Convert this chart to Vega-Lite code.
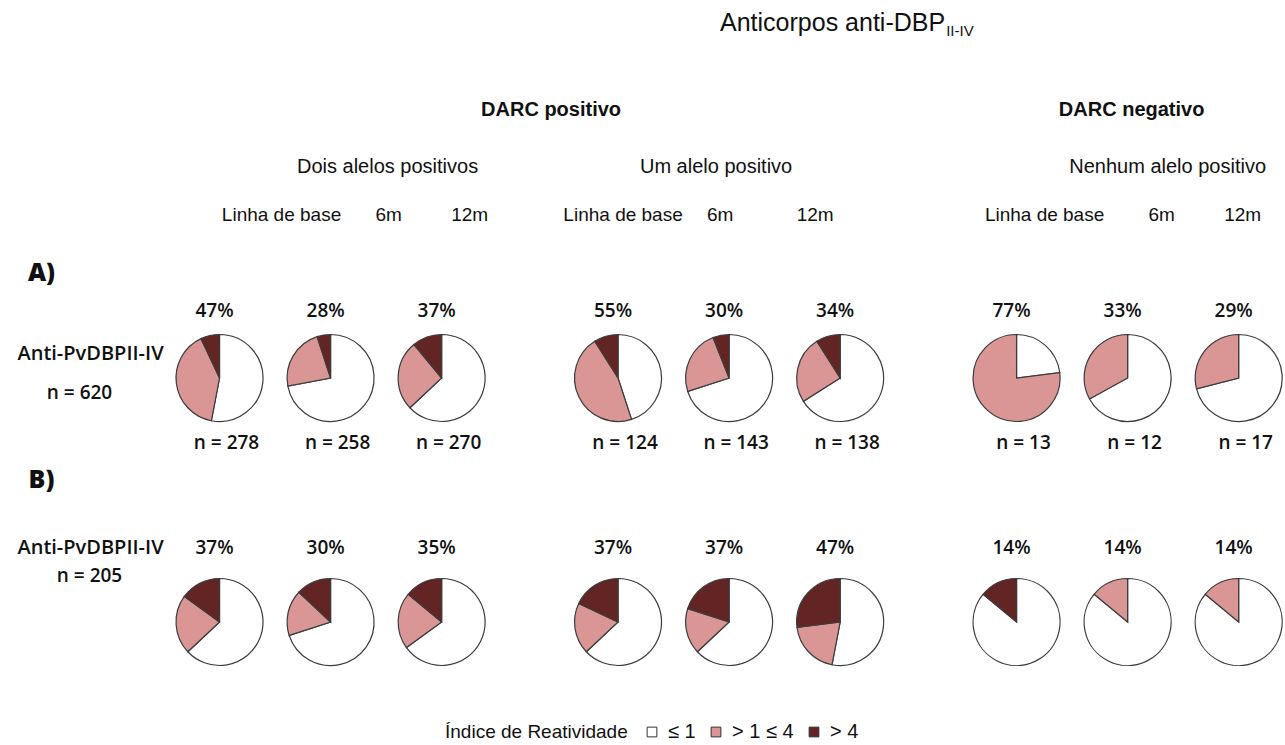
{
  "$schema": "https://vega.github.io/schema/vega-lite/v6.json",
  "width": 1285,
  "height": 745,
  "autosize": {"type": "none"},
  "padding": 0,
  "background": "white",
  "config": {
    "view": {"stroke": null},
    "text": {"font": "Open Sans", "color": "#111111"}
  },
  "datasets": {
    "fatias": [
      {"linha": "A", "grupo": "Dois alelos positivos", "tempo": "Linha de base", "classe": "≤ 1", "ordem": 1, "pct": 53},
      {"linha": "A", "grupo": "Dois alelos positivos", "tempo": "Linha de base", "classe": "> 1 ≤ 4", "ordem": 2, "pct": 40},
      {"linha": "A", "grupo": "Dois alelos positivos", "tempo": "Linha de base", "classe": "> 4", "ordem": 3, "pct": 7},
      {"linha": "A", "grupo": "Dois alelos positivos", "tempo": "6m", "classe": "≤ 1", "ordem": 1, "pct": 72},
      {"linha": "A", "grupo": "Dois alelos positivos", "tempo": "6m", "classe": "> 1 ≤ 4", "ordem": 2, "pct": 23},
      {"linha": "A", "grupo": "Dois alelos positivos", "tempo": "6m", "classe": "> 4", "ordem": 3, "pct": 5},
      {"linha": "A", "grupo": "Dois alelos positivos", "tempo": "12m", "classe": "≤ 1", "ordem": 1, "pct": 63},
      {"linha": "A", "grupo": "Dois alelos positivos", "tempo": "12m", "classe": "> 1 ≤ 4", "ordem": 2, "pct": 26},
      {"linha": "A", "grupo": "Dois alelos positivos", "tempo": "12m", "classe": "> 4", "ordem": 3, "pct": 11},
      {"linha": "A", "grupo": "Um alelo positivo", "tempo": "Linha de base", "classe": "≤ 1", "ordem": 1, "pct": 45},
      {"linha": "A", "grupo": "Um alelo positivo", "tempo": "Linha de base", "classe": "> 1 ≤ 4", "ordem": 2, "pct": 46},
      {"linha": "A", "grupo": "Um alelo positivo", "tempo": "Linha de base", "classe": "> 4", "ordem": 3, "pct": 9},
      {"linha": "A", "grupo": "Um alelo positivo", "tempo": "6m", "classe": "≤ 1", "ordem": 1, "pct": 70},
      {"linha": "A", "grupo": "Um alelo positivo", "tempo": "6m", "classe": "> 1 ≤ 4", "ordem": 2, "pct": 24},
      {"linha": "A", "grupo": "Um alelo positivo", "tempo": "6m", "classe": "> 4", "ordem": 3, "pct": 6},
      {"linha": "A", "grupo": "Um alelo positivo", "tempo": "12m", "classe": "≤ 1", "ordem": 1, "pct": 66},
      {"linha": "A", "grupo": "Um alelo positivo", "tempo": "12m", "classe": "> 1 ≤ 4", "ordem": 2, "pct": 25},
      {"linha": "A", "grupo": "Um alelo positivo", "tempo": "12m", "classe": "> 4", "ordem": 3, "pct": 9},
      {"linha": "A", "grupo": "Nenhum alelo positivo", "tempo": "Linha de base", "classe": "≤ 1", "ordem": 1, "pct": 23},
      {"linha": "A", "grupo": "Nenhum alelo positivo", "tempo": "Linha de base", "classe": "> 1 ≤ 4", "ordem": 2, "pct": 77},
      {"linha": "A", "grupo": "Nenhum alelo positivo", "tempo": "6m", "classe": "≤ 1", "ordem": 1, "pct": 67},
      {"linha": "A", "grupo": "Nenhum alelo positivo", "tempo": "6m", "classe": "> 1 ≤ 4", "ordem": 2, "pct": 33},
      {"linha": "A", "grupo": "Nenhum alelo positivo", "tempo": "12m", "classe": "≤ 1", "ordem": 1, "pct": 71},
      {"linha": "A", "grupo": "Nenhum alelo positivo", "tempo": "12m", "classe": "> 1 ≤ 4", "ordem": 2, "pct": 29},
      {"linha": "B", "grupo": "Dois alelos positivos", "tempo": "Linha de base", "classe": "≤ 1", "ordem": 1, "pct": 63},
      {"linha": "B", "grupo": "Dois alelos positivos", "tempo": "Linha de base", "classe": "> 1 ≤ 4", "ordem": 2, "pct": 22},
      {"linha": "B", "grupo": "Dois alelos positivos", "tempo": "Linha de base", "classe": "> 4", "ordem": 3, "pct": 15},
      {"linha": "B", "grupo": "Dois alelos positivos", "tempo": "6m", "classe": "≤ 1", "ordem": 1, "pct": 70},
      {"linha": "B", "grupo": "Dois alelos positivos", "tempo": "6m", "classe": "> 1 ≤ 4", "ordem": 2, "pct": 17},
      {"linha": "B", "grupo": "Dois alelos positivos", "tempo": "6m", "classe": "> 4", "ordem": 3, "pct": 13},
      {"linha": "B", "grupo": "Dois alelos positivos", "tempo": "12m", "classe": "≤ 1", "ordem": 1, "pct": 65},
      {"linha": "B", "grupo": "Dois alelos positivos", "tempo": "12m", "classe": "> 1 ≤ 4", "ordem": 2, "pct": 21},
      {"linha": "B", "grupo": "Dois alelos positivos", "tempo": "12m", "classe": "> 4", "ordem": 3, "pct": 14},
      {"linha": "B", "grupo": "Um alelo positivo", "tempo": "Linha de base", "classe": "≤ 1", "ordem": 1, "pct": 63},
      {"linha": "B", "grupo": "Um alelo positivo", "tempo": "Linha de base", "classe": "> 1 ≤ 4", "ordem": 2, "pct": 19},
      {"linha": "B", "grupo": "Um alelo positivo", "tempo": "Linha de base", "classe": "> 4", "ordem": 3, "pct": 18},
      {"linha": "B", "grupo": "Um alelo positivo", "tempo": "6m", "classe": "≤ 1", "ordem": 1, "pct": 63},
      {"linha": "B", "grupo": "Um alelo positivo", "tempo": "6m", "classe": "> 1 ≤ 4", "ordem": 2, "pct": 17},
      {"linha": "B", "grupo": "Um alelo positivo", "tempo": "6m", "classe": "> 4", "ordem": 3, "pct": 20},
      {"linha": "B", "grupo": "Um alelo positivo", "tempo": "12m", "classe": "≤ 1", "ordem": 1, "pct": 53},
      {"linha": "B", "grupo": "Um alelo positivo", "tempo": "12m", "classe": "> 1 ≤ 4", "ordem": 2, "pct": 20},
      {"linha": "B", "grupo": "Um alelo positivo", "tempo": "12m", "classe": "> 4", "ordem": 3, "pct": 27},
      {"linha": "B", "grupo": "Nenhum alelo positivo", "tempo": "Linha de base", "classe": "≤ 1", "ordem": 1, "pct": 86},
      {"linha": "B", "grupo": "Nenhum alelo positivo", "tempo": "Linha de base", "classe": "> 4", "ordem": 3, "pct": 14},
      {"linha": "B", "grupo": "Nenhum alelo positivo", "tempo": "6m", "classe": "≤ 1", "ordem": 1, "pct": 86},
      {"linha": "B", "grupo": "Nenhum alelo positivo", "tempo": "6m", "classe": "> 1 ≤ 4", "ordem": 2, "pct": 14},
      {"linha": "B", "grupo": "Nenhum alelo positivo", "tempo": "12m", "classe": "≤ 1", "ordem": 1, "pct": 86},
      {"linha": "B", "grupo": "Nenhum alelo positivo", "tempo": "12m", "classe": "> 1 ≤ 4", "ordem": 2, "pct": 14}
    ],
    "amostras": [
      {"linha": "A", "grupo": "Dois alelos positivos", "tempo": "Linha de base", "n": 278},
      {"linha": "A", "grupo": "Dois alelos positivos", "tempo": "6m", "n": 258},
      {"linha": "A", "grupo": "Dois alelos positivos", "tempo": "12m", "n": 270},
      {"linha": "A", "grupo": "Um alelo positivo", "tempo": "Linha de base", "n": 124},
      {"linha": "A", "grupo": "Um alelo positivo", "tempo": "6m", "n": 143},
      {"linha": "A", "grupo": "Um alelo positivo", "tempo": "12m", "n": 138},
      {"linha": "A", "grupo": "Nenhum alelo positivo", "tempo": "Linha de base", "n": 13},
      {"linha": "A", "grupo": "Nenhum alelo positivo", "tempo": "6m", "n": 12},
      {"linha": "A", "grupo": "Nenhum alelo positivo", "tempo": "12m", "n": 17}
    ],
    "tempos": [
      {"grupo": "Dois alelos positivos", "tempo": "Linha de base"},
      {"grupo": "Dois alelos positivos", "tempo": "6m"},
      {"grupo": "Dois alelos positivos", "tempo": "12m"},
      {"grupo": "Um alelo positivo", "tempo": "Linha de base"},
      {"grupo": "Um alelo positivo", "tempo": "6m"},
      {"grupo": "Um alelo positivo", "tempo": "12m"},
      {"grupo": "Nenhum alelo positivo", "tempo": "Linha de base"},
      {"grupo": "Nenhum alelo positivo", "tempo": "6m"},
      {"grupo": "Nenhum alelo positivo", "tempo": "12m"}
    ],
    "linhas": [
      {"linha": "A", "rotulo": "A)", "anticorpo": "Anti-PvDBPII-IV", "n": 620},
      {"linha": "B", "rotulo": "B)", "anticorpo": "Anti-PvDBPII-IV", "n": 205}
    ]
  },
  "encoding": {
    "x": {
      "field": "grupo",
      "type": "nominal",
      "axis": null,
      "scale": {
        "domain": ["Dois alelos positivos", "Um alelo positivo", "Nenhum alelo positivo"],
        "range": [164, 1294.2],
        "paddingInner": 0.164,
        "paddingOuter": 0
      }
    },
    "xOffset": {
      "field": "tempo",
      "type": "nominal",
      "scale": {"type": "point", "domain": ["Linha de base", "6m", "12m"], "padding": 0.5}
    },
    "y": {
      "field": "linha",
      "type": "nominal",
      "axis": null,
      "scale": {"type": "point", "domain": ["A", "B"], "range": [378, 622], "padding": 0}
    }
  },
  "layer": [
    {
      "data": {"name": "fatias"},
      "transform": [
        {"stack": "pct", "groupby": ["linha", "grupo", "tempo"], "sort": [{"field": "ordem", "order": "ascending"}], "as": ["ini", "fim"]}
      ],
      "mark": {"type": "arc", "outerRadius": 43.5, "stroke": "#3c3c3c", "strokeWidth": 1.2},
      "encoding": {
        "theta": {"field": "ini", "type": "quantitative", "scale": {"domain": [0, 100]}},
        "theta2": {"field": "fim"},
        "color": {
          "field": "classe",
          "type": "nominal",
          "scale": {"domain": ["≤ 1", "> 1 ≤ 4", "> 4"], "range": ["#ffffff", "#d99694", "#632523"]},
          "legend": {
            "orient": "none",
            "legendX": 445,
            "legendY": 722,
            "direction": "horizontal",
            "title": "Índice de Reatividade",
            "titleOrient": "left",
            "titleLimit": 400,
            "titleFont": "Liberation Sans",
            "titleFontSize": 19,
            "titleFontWeight": "normal",
            "titleColor": "#111111",
            "titlePadding": 14,
            "labelFont": "Liberation Sans",
            "labelFontSize": 20,
            "labelColor": "#111111",
            "labelOffset": 6,
            "labelLimit": 200,
            "symbolType": "square",
            "symbolSize": 95,
            "symbolStrokeColor": "#333333",
            "symbolStrokeWidth": 1,
            "columnPadding": 10
          }
        }
      }
    },
    {
      "data": {"name": "fatias"},
      "transform": [
        {"filter": "datum.classe !== '≤ 1'"},
        {"aggregate": [{"op": "sum", "field": "pct", "as": "positivos"}], "groupby": ["linha", "grupo", "tempo"]},
        {"calculate": "datum.positivos + '%'", "as": "rotulo"}
      ],
      "layer": [
        {
          "transform": [{"filter": "datum.linha === 'A'"}],
          "mark": {"type": "text", "fontSize": 19, "fontWeight": 600, "dy": -67, "dx": -5},
          "encoding": {"text": {"field": "rotulo"}}
        },
        {
          "transform": [{"filter": "datum.linha === 'B'"}],
          "mark": {"type": "text", "fontSize": 19, "fontWeight": 600, "dy": -74, "dx": -5},
          "encoding": {"text": {"field": "rotulo"}}
        }
      ]
    },
    {
      "data": {"name": "amostras"},
      "transform": [{"calculate": "'n = ' + datum.n", "as": "rotulo"}],
      "mark": {"type": "text", "fontSize": 19, "fontWeight": 600, "dy": 65, "dx": 7},
      "encoding": {"text": {"field": "rotulo"}}
    },
    {
      "data": {"name": "linhas"},
      "transform": [{"calculate": "'n = ' + datum.n", "as": "rotulo_n"}],
      "encoding": {
        "x": {"datum": "Dois alelos positivos", "type": "nominal"},
        "xOffset": {"datum": "Linha de base", "type": "nominal"}
      },
      "layer": [
        {
          "transform": [{"filter": "datum.linha === 'A'"}],
          "layer": [
            {"mark": {"type": "text", "fontSize": 25, "fontWeight": 800, "dx": -178, "dy": -105}, "encoding": {"text": {"field": "rotulo"}}},
            {"mark": {"type": "text", "fontSize": 20, "fontWeight": 600, "dx": -129, "dy": -24}, "encoding": {"text": {"field": "anticorpo"}}},
            {"mark": {"type": "text", "fontSize": 19, "fontWeight": 600, "dx": -140, "dy": 15}, "encoding": {"text": {"field": "rotulo_n"}}}
          ]
        },
        {
          "transform": [{"filter": "datum.linha === 'B'"}],
          "layer": [
            {"mark": {"type": "text", "fontSize": 25, "fontWeight": 800, "dx": -178, "dy": -142}, "encoding": {"text": {"field": "rotulo"}}},
            {"mark": {"type": "text", "fontSize": 20, "fontWeight": 600, "dx": -129, "dy": -74}, "encoding": {"text": {"field": "anticorpo"}}},
            {"mark": {"type": "text", "fontSize": 19, "fontWeight": 600, "dx": -130, "dy": -46}, "encoding": {"text": {"field": "rotulo_n"}}}
          ]
        }
      ]
    },
    {
      "data": {"name": "tempos"},
      "encoding": {"y": {"datum": "A", "type": "nominal"}, "text": {"field": "tempo"}},
      "layer": [
        {"transform": [{"filter": "datum.grupo === 'Dois alelos positivos' && datum.tempo === 'Linha de base'"}], "mark": {"type": "text", "font": "Liberation Sans", "fontSize": 19, "dy": -163, "dx": 62}},
        {"transform": [{"filter": "datum.grupo === 'Dois alelos positivos' && datum.tempo === '6m'"}], "mark": {"type": "text", "font": "Liberation Sans", "fontSize": 19, "dy": -163, "dx": 58}},
        {"transform": [{"filter": "datum.grupo === 'Dois alelos positivos' && datum.tempo === '12m'"}], "mark": {"type": "text", "font": "Liberation Sans", "fontSize": 19, "dy": -163, "dx": 28}},
        {"transform": [{"filter": "datum.grupo === 'Um alelo positivo' && datum.tempo === 'Linha de base'"}], "mark": {"type": "text", "font": "Liberation Sans", "fontSize": 19, "dy": -163, "dx": 5}},
        {"transform": [{"filter": "datum.grupo === 'Um alelo positivo' && datum.tempo === '6m'"}], "mark": {"type": "text", "font": "Liberation Sans", "fontSize": 19, "dy": -163, "dx": -9}},
        {"transform": [{"filter": "datum.grupo === 'Um alelo positivo' && datum.tempo === '12m'"}], "mark": {"type": "text", "font": "Liberation Sans", "fontSize": 19, "dy": -163, "dx": -25}},
        {"transform": [{"filter": "datum.grupo === 'Nenhum alelo positivo' && datum.tempo === 'Linha de base'"}], "mark": {"type": "text", "font": "Liberation Sans", "fontSize": 19, "dy": -163, "dx": 28}},
        {"transform": [{"filter": "datum.grupo === 'Nenhum alelo positivo' && datum.tempo === '6m'"}], "mark": {"type": "text", "font": "Liberation Sans", "fontSize": 19, "dy": -163, "dx": 34}},
        {"transform": [{"filter": "datum.grupo === 'Nenhum alelo positivo' && datum.tempo === '12m'"}], "mark": {"type": "text", "font": "Liberation Sans", "fontSize": 19, "dy": -163, "dx": 4}}
      ]
    },
    {
      "data": {"values": [
        {"grupo": "Dois alelos positivos", "texto": "Dois alelos positivos"},
        {"grupo": "Um alelo positivo", "texto": "Um alelo positivo"},
        {"grupo": "Nenhum alelo positivo", "texto": "Nenhum alelo positivo"}
      ]},
      "encoding": {
        "xOffset": {"datum": "6m", "type": "nominal"},
        "y": {"datum": "A", "type": "nominal"},
        "text": {"field": "texto"}
      },
      "layer": [
        {
          "transform": [{"filter": "datum.grupo === 'Dois alelos positivos'"}],
          "mark": {"type": "text", "font": "Liberation Sans", "fontSize": 20, "dy": -211, "dx": 57}
        },
        {
          "transform": [{"filter": "datum.grupo === 'Um alelo positivo'"}],
          "mark": {"type": "text", "font": "Liberation Sans", "fontSize": 20, "dy": -211, "dx": -13}
        },
        {
          "transform": [{"filter": "datum.grupo === 'Nenhum alelo positivo'"}],
          "mark": {"type": "text", "font": "Liberation Sans", "fontSize": 20, "dy": -211, "dx": 40}
        }
      ]
    },
    {
      "data": {"values": [
        {"grupo": "Um alelo positivo", "tempo": "Linha de base", "texto": "DARC positivo"},
        {"grupo": "Nenhum alelo positivo", "tempo": "6m", "texto": "DARC negativo"}
      ]},
      "encoding": {"y": {"datum": "A", "type": "nominal"}, "text": {"field": "texto"}},
      "layer": [
        {
          "transform": [{"filter": "datum.texto === 'DARC positivo'"}],
          "mark": {"type": "text", "font": "Liberation Sans", "fontWeight": "bold", "fontSize": 20, "dy": -268, "dx": -67}
        },
        {
          "transform": [{"filter": "datum.texto === 'DARC negativo'"}],
          "mark": {"type": "text", "font": "Liberation Sans", "fontWeight": "bold", "fontSize": 20, "dy": -268, "dx": 4}
        }
      ]
    },
    {
      "data": {"values": [{"texto": "Anticorpos anti-DBP", "indice": "II-IV"}]},
      "encoding": {
        "x": {"datum": "Um alelo positivo", "type": "nominal"},
        "xOffset": {"datum": "12m", "type": "nominal"},
        "y": {"datum": "A", "type": "nominal"}
      },
      "layer": [
        {
          "mark": {"type": "text", "font": "Liberation Sans", "fontSize": 25, "align": "right", "dy": -355, "dx": 105},
          "encoding": {"text": {"field": "texto"}}
        },
        {
          "mark": {"type": "text", "font": "Liberation Sans", "fontSize": 15, "align": "left", "dy": -347, "dx": 106},
          "encoding": {"text": {"field": "indice"}}
        }
      ]
    }
  ]
}
